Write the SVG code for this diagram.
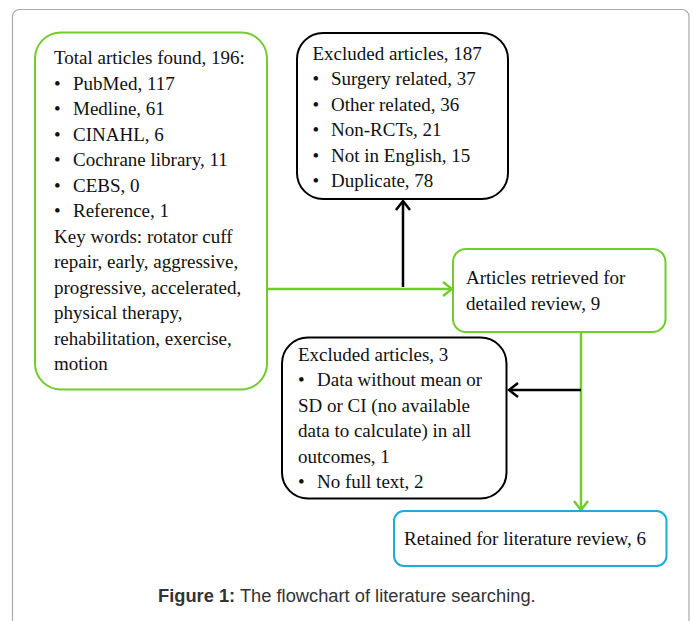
<svg xmlns="http://www.w3.org/2000/svg" width="694" height="621" viewBox="0 0 694 621">
<style>
  .t { font-family: "Liberation Serif", "Times New Roman", serif; font-size: 19px; fill: #111; }
  .cap { font-family: "Liberation Sans", Arial, sans-serif; font-size: 18.3px; fill: #333; }
  .g { fill: #fff; stroke: #74cc2c; stroke-width: 2; }
  .k { fill: #fff; stroke: #000; stroke-width: 2; }
  .b { fill: #fff; stroke: #1aaed6; stroke-width: 2; }
  .cg { fill: none; stroke: #74cc2c; stroke-width: 2.5; }
  .ck { fill: none; stroke: #000; stroke-width: 2.5; }
</style>
<defs>
  <marker id="ag" markerUnits="userSpaceOnUse" markerWidth="14" markerHeight="18" refX="11" refY="8" orient="auto">
    <path d="M2,1 L11,8 L2,15" fill="none" stroke="#74cc2c" stroke-width="2.5"/>
  </marker>
  <marker id="ak" markerUnits="userSpaceOnUse" markerWidth="14" markerHeight="18" refX="11" refY="8" orient="auto">
    <path d="M2,1 L11,8 L2,15" fill="none" stroke="#000" stroke-width="2.5"/>
  </marker>
</defs>
<rect x="12.5" y="9.5" width="676.5" height="640" rx="7" fill="#fff" stroke="#aaa" stroke-width="1.2"/>

<g id="connectors">
  <path class="cg" d="M267,289 H452" marker-end="url(#ag)"/>
  <path class="ck" d="M403,287 V201" marker-end="url(#ak)"/>
  <path class="cg" d="M581,332 V510" marker-end="url(#ag)"/>
  <path class="ck" d="M581,390 H509" marker-end="url(#ak)"/>
</g>

<g id="total">
  <rect class="g" x="35" y="32.5" width="232" height="357" rx="26"/>
  <text class="t" x="54" y="64">Total articles found, 196:</text>
  <text class="t" x="54" y="89.5">•<tspan x="73">PubMed, 117</tspan></text>
  <text class="t" x="54" y="115">•<tspan x="73">Medline, 61</tspan></text>
  <text class="t" x="54" y="140.5">•<tspan x="73">CINAHL, 6</tspan></text>
  <text class="t" x="54" y="166">•<tspan x="73">Cochrane library, 11</tspan></text>
  <text class="t" x="54" y="191.5">•<tspan x="73">CEBS, 0</tspan></text>
  <text class="t" x="54" y="217">•<tspan x="73">Reference, 1</tspan></text>
  <text class="t" x="54" y="242.5">Key words: rotator cuff</text>
  <text class="t" x="54" y="268">repair, early, aggressive,</text>
  <text class="t" x="54" y="293.5">progressive, accelerated,</text>
  <text class="t" x="54" y="319">physical therapy,</text>
  <text class="t" x="54" y="344.5">rehabilitation, exercise,</text>
  <text class="t" x="54" y="370">motion</text>
</g>

<g id="excluded187">
  <rect class="k" x="297" y="33" width="211" height="166" rx="26"/>
  <text class="t" x="312.5" y="59.5">Excluded articles, 187</text>
  <text class="t" x="312.5" y="85">•<tspan x="331">Surgery related, 37</tspan></text>
  <text class="t" x="312.5" y="110.5">•<tspan x="331">Other related, 36</tspan></text>
  <text class="t" x="312.5" y="136">•<tspan x="331">Non-RCTs, 21</tspan></text>
  <text class="t" x="312.5" y="161.5">•<tspan x="331">Not in English, 15</tspan></text>
  <text class="t" x="312.5" y="187">•<tspan x="331">Duplicate, 78</tspan></text>
</g>

<g id="retrieved">
  <rect class="g" x="453" y="249" width="212.5" height="83" rx="13"/>
  <text class="t" x="466" y="284">Articles retrieved for</text>
  <text class="t" x="466" y="309.5">detailed review, 9</text>
</g>

<g id="excluded3">
  <rect class="k" x="282" y="337.5" width="224.5" height="161" rx="26"/>
  <text class="t" x="298" y="360.5">Excluded articles, 3</text>
  <text class="t" x="298" y="386">•<tspan x="317">Data without mean or</tspan></text>
  <text class="t" x="298" y="411.5">SD or CI (no available</text>
  <text class="t" x="298" y="437">data to calculate) in all</text>
  <text class="t" x="298" y="462.5">outcomes, 1</text>
  <text class="t" x="298" y="488">•<tspan x="317">No full text, 2</tspan></text>
</g>

<g id="retained">
  <rect class="b" x="394" y="511" width="272.5" height="55" rx="10"/>
  <text class="t" x="404" y="545">Retained for literature review, 6</text>
</g>

<text class="cap" x="158" y="602"><tspan font-weight="bold">Figure 1:</tspan> The flowchart of literature searching.</text>
</svg>
